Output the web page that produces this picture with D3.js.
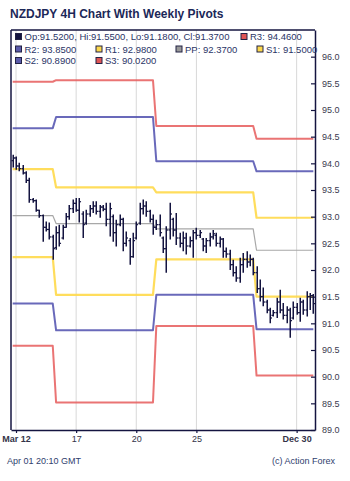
<!DOCTYPE html>
<html><head><meta charset="utf-8">
<script src="https://cdn.jsdelivr.net/npm/d3@7"></script>
<style>body{margin:0;background:#fff;}svg{display:block;font-family:"Liberation Sans",Arial,sans-serif;}</style>
</head><body>
<svg id="c" width="350" height="481"></svg>
<script>
// ---- data ----
const barOpen  = [94.05,94.10,93.95,93.90,93.82,93.68,93.32,93.30,93.12,93.02,92.80,92.76,92.62,92.42,92.70,92.60,92.80,93.00,93.15,93.25,93.12,93.05,92.88,93.05,93.15,93.20,93.10,93.18,93.14,92.95,93.00,92.70,92.85,92.95,92.50,92.55,92.25,92.60,92.88,93.15,93.20,93.10,92.95,92.80,92.85,92.60,92.40,92.75,92.95,92.75,92.60,92.50,92.60,92.45,92.55,92.70,92.65,92.58,92.45,92.55,92.62,92.65,92.50,92.58,92.35,92.30,92.10,91.95,91.85,92.10,92.20,92.15,92.20,91.95,91.65,91.50,91.40,91.25,91.15,91.20,91.40,91.25,91.15,91.25,91.10,91.30,91.20,91.40,91.25,91.50,91.52];
const barHigh  = [94.16,94.13,94.01,93.97,93.85,93.73,93.35,93.32,93.13,93.04,92.91,92.89,92.66,92.82,92.85,92.85,93.07,93.22,93.32,93.35,93.35,93.10,93.13,93.22,93.29,93.29,93.22,93.22,93.26,93.26,93.04,92.94,93.04,92.98,92.72,92.60,92.70,92.91,93.26,93.32,93.29,93.13,93.04,92.94,93.04,92.63,92.82,93.26,92.98,93.07,92.70,92.72,92.70,92.63,92.75,92.79,92.75,92.60,92.60,92.70,92.75,92.70,92.63,92.60,92.42,92.38,92.19,92.07,92.23,92.32,92.35,92.29,92.23,92.07,91.82,91.67,91.44,91.29,91.25,91.48,91.63,91.38,91.32,91.29,91.41,91.38,91.48,91.44,91.60,91.57,91.55];
const barLow   = [93.92,93.88,93.85,93.79,93.63,93.26,93.26,93.09,92.98,92.53,92.72,92.57,92.19,92.38,92.44,92.57,92.79,92.94,93.07,93.09,92.89,92.60,92.85,93.00,93.07,93.04,92.98,93.10,92.82,92.63,92.53,92.44,92.82,92.35,92.44,92.10,92.23,92.57,92.85,93.04,93.00,92.89,92.66,92.75,92.63,92.32,91.95,92.57,92.63,92.47,92.42,92.35,92.29,92.42,92.23,92.57,92.60,92.35,92.32,92.44,92.57,92.44,92.42,92.23,92.23,92.00,91.88,91.78,91.76,91.95,92.04,92.07,91.90,91.57,91.41,91.32,91.19,91.00,91.13,91.10,91.19,91.07,91.00,90.73,91.07,91.16,91.03,91.16,91.13,91.25,91.18];
const barClose = [94.10,93.95,93.90,93.82,93.68,93.32,93.30,93.12,93.02,92.80,92.76,92.62,92.40,92.70,92.50,92.80,93.00,93.15,93.25,93.12,93.28,92.85,93.05,93.15,93.20,93.10,93.18,93.14,92.95,93.15,92.70,92.85,92.95,92.50,92.60,92.25,92.55,92.85,93.15,93.20,93.10,92.95,92.80,92.85,92.70,92.40,92.75,93.05,92.75,92.60,92.50,92.60,92.45,92.55,92.70,92.65,92.70,92.45,92.55,92.62,92.68,92.50,92.58,92.35,92.30,92.10,91.95,91.85,92.10,92.20,92.15,92.20,91.95,91.65,91.50,91.40,91.25,91.10,91.20,91.40,91.25,91.15,91.25,91.05,91.30,91.20,91.40,91.25,91.50,91.52,91.37];

// weekly pivots (one value per week) and bars per week
const weekBars = [13, 30, 30, 18];
const pivR3 = [95.53, 95.56, 94.70, 94.46];
const pivR2 = [94.66, 94.87, 94.04, 93.85];
const pivR1 = [93.89, 93.55, 93.455, 92.98];
const pivPP = [93.02, 92.87, 92.77, 92.37];
const pivS1 = [92.24, 91.535, 92.20, 91.50];
const pivS2 = [91.37, 90.87, 91.535, 90.89];
const pivS3 = [90.58, 89.515, 90.95, 90.02];

const xTickBars   = [1, 19, 37, 55, 85];
const xTickLabels = ["Mar 12", "17", "20", "25", "Dec 30"];
const xTickBold   = [true, false, false, false, true];
const yTicks = [89.0, 89.5, 90.0, 90.5, 91.0, 91.5, 92.0, 92.5, 93.0, 93.5, 94.0, 94.5, 95.0, 95.5, 96.0];

const legendRows = [
  [{label:"Op:91.5200, Hi:91.5500, Lo:91.1800, Cl:91.3700", color:"#141440"}, null, null, {label:"R3: 94.4600", color:"#e05555"}],
  [{label:"R2: 93.8500", color:"#5a5aaa"}, {label:"R1: 92.9800", color:"#fcd84c"}, {label:"PP: 92.3700", color:"#999999"}, {label:"S1: 91.5000", color:"#fcd84c"}],
  [{label:"S2: 90.8900", color:"#5a5aaa"}, {label:"S3: 90.0200", color:"#e05555"}, null, null]
];

// ---- layout ----
const L = 11, R = 315, T = 30, B = 430;
const N = barHigh.length;
const x = d3.scaleLinear().domain([-0.5, N - 0.5]).range([L, R]);
const y = d3.scaleLinear().domain([89, 96.5]).range([B, T]);
const svg = d3.select("#c");
const navy = "#141440";

// per-bar pivot series built from weekly values
function expand(w) { const out = []; weekBars.forEach((n, k) => { for (let i = 0; i < n; i++) out.push(w[k]); }); return out; }

// gridlines
svg.append("g").selectAll("line").data(xTickBars).join("line")
  .attr("x1", d => x(d)).attr("x2", d => x(d)).attr("y1", T).attr("y2", B)
  .attr("stroke", "#d8d8d8").attr("stroke-width", 1);

// pivot lines
const pivots = [
  {v: pivR3, c: "#e65c5c", w: 2, o: 0.85},
  {v: pivR2, c: "#4f4fae", w: 2, o: 0.85},
  {v: pivR1, c: "#ffd94a", w: 2.2, o: 0.9},
  {v: pivPP, c: "#a8a8a8", w: 1.2, o: 1},
  {v: pivS1, c: "#ffd94a", w: 2.2, o: 0.9},
  {v: pivS2, c: "#4f4fae", w: 2, o: 0.85},
  {v: pivS3, c: "#e65c5c", w: 2, o: 0.85}
];
const line = d3.line().x((d, i) => x(i)).y(d => y(d));
pivots.forEach(p => {
  svg.append("path").datum(expand(p.v)).attr("d", line)
    .attr("fill", "none").attr("stroke", p.c).attr("stroke-width", p.w)
    .attr("stroke-opacity", p.o).attr("stroke-linejoin", "round");
});

// OHLC bars
const bars = svg.append("g").attr("stroke", navy).attr("stroke-width", 1.5);
d3.range(N).forEach(i => {
  const cx = Math.round(x(i)) + 0.25;
  bars.append("line").attr("x1", cx).attr("x2", cx).attr("y1", y(barHigh[i])).attr("y2", y(barLow[i]));
  bars.append("line").attr("x1", cx - 1.8).attr("x2", cx).attr("y1", y(barOpen[i])).attr("y2", y(barOpen[i])).attr("stroke-width", 1.2);
  bars.append("line").attr("x1", cx).attr("x2", cx + 1.8).attr("y1", y(barClose[i])).attr("y2", y(barClose[i])).attr("stroke-width", 1.2);
});

// frame
svg.append("line").attr("x1", L).attr("x2", L).attr("y1", T).attr("y2", B).attr("stroke", navy).attr("stroke-width", 1.5);
svg.append("line").attr("x1", L).attr("x2", R).attr("y1", T).attr("y2", T).attr("stroke", navy).attr("stroke-width", 1.5);

// y axis (right)
const yAxis = d3.axisRight(y).tickValues(yTicks).tickFormat(d3.format(".1f")).tickSizeInner(-4).tickSizeOuter(0).tickPadding(7);
const gy = svg.append("g").attr("transform", `translate(${R},0)`).call(yAxis);
gy.select(".domain").attr("stroke", navy).attr("stroke-width", 1.5);
gy.selectAll(".tick line").attr("stroke", navy).attr("stroke-width", 1.2);
gy.selectAll("text").attr("fill", "#3a3a4e").attr("font-size", 9).attr("font-family", "Liberation Sans, Arial, sans-serif");

// x axis
const xAxis = d3.axisBottom(x).tickValues(xTickBars).tickFormat((d, i) => xTickLabels[i]).tickSizeInner(3).tickSizeOuter(0).tickPadding(3);
const gx = svg.append("g").attr("transform", `translate(0,${B})`).call(xAxis);
gx.select(".domain").attr("stroke", navy).attr("stroke-width", 1.5);
gx.selectAll(".tick line").attr("stroke", navy).attr("stroke-width", 1.2);
gx.selectAll("text").attr("fill", "#333348").attr("font-size", 9).attr("font-family", "Liberation Sans, Arial, sans-serif")
  .attr("font-weight", (d, i) => xTickBold[i] ? "bold" : "normal");

// title
svg.append("text").attr("x", 10).attr("y", 18).text("NZDJPY 4H Chart With Weekly Pivots")
  .attr("font-size", 12).attr("font-weight", "bold").attr("fill", "#1c2858");

// legend
const colX = [15, 95.5, 175.5, 240.5];
const rowY = [40, 52.5, 64];
legendRows.forEach((row, r) => {
  row.forEach((it, c) => {
    if (!it) return;
    let mx = colX[c];
    if (r === 1 && c === 3) mx = 256.5;
    svg.append("rect").attr("x", mx + 0.5).attr("y", rowY[r] - 6.5).attr("width", 6).attr("height", 6)
      .attr("fill", it.color).attr("stroke", "#222244").attr("stroke-width", 1);
    svg.append("text").attr("x", mx + 9.5).attr("y", rowY[r]).text(it.label)
      .attr("font-size", 9.5).attr("fill", "#2a3466");
  });
});

// footer
svg.append("text").attr("x", 7).attr("y", 464).text("Apr 01 20:10 GMT").attr("font-size", 9).attr("fill", "#2f3e6e");
svg.append("text").attr("x", 335).attr("y", 464).attr("text-anchor", "end").text("(c) Action Forex").attr("font-size", 9).attr("fill", "#2f3e6e");
</script>
</body></html>
